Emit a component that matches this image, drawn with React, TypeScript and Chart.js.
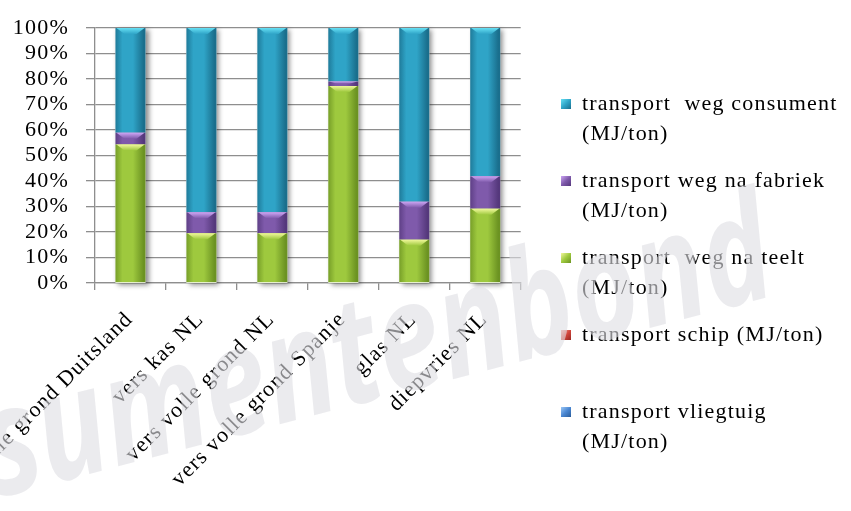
import { useEffect, useRef } from 'react';
import { Chart, registerables } from 'chart.js';

Chart.register(...registerables);

// ---- data ----
const categories = [
  'vers volle grond Duitsland',
  'vers kas NL',
  'vers volle grond NL',
  'vers volle grond Spanje',
  'glas NL',
  'diepvries NL',
];
const seriesNames = [
  'transport vliegtuig (MJ/ton)',
  'transport schip (MJ/ton)',
  'transport  weg na teelt (MJ/ton)',
  'transport weg na fabriek (MJ/ton)',
  'transport  weg consument (MJ/ton)',
];
const vliegtuig = [0, 0, 0, 0, 0, 0];
const schip = [0, 0, 0, 0, 0, 0];
const teelt = [54.3, 19.5, 19.5, 77.3, 17.0, 29.1];
const fabriek = [4.6, 8.2, 8.2, 1.7, 14.9, 12.8];
const consument = [41.1, 72.3, 72.3, 21.0, 68.1, 58.1];
const yMin = 0;
const yMax = 100;
const yStep = 10;
const watermarkText = 'consumentenbond';

// ---- styles ----
const FONT = "'Liberation Serif', 'Times New Roman', serif";
const FSIZE = 22;
const SPACING = '1.2px';
const GRID = '#8e8e8e';
const palettes = [
  { edge: '#2a5c9a', mid: '#4a87d2', hi: '#9cc8f6' },
  { edge: '#9a2822', mid: '#d2463c', hi: '#f7a199' },
  { edge: '#6c9322', mid: '#9ec93e', hi: '#f1f89c' },
  { edge: '#55387c', mid: '#7f5aab', hi: '#cda6f4' },
  { edge: '#1a6f8d', mid: '#2fa4c7', hi: '#66e0f4' },
];
const seriesData = [vliegtuig, schip, teelt, fabriek, consument];

function wrapText(ctx: CanvasRenderingContext2D, text: string, maxW: number): string[] {
  const words = text.split(' ');
  const lines: string[] = [];
  let cur = '';
  for (let i = 0; i < words.length; i++) {
    const w = words[i];
    const test = cur === '' ? w : cur + ' ' + w;
    if (cur !== '' && w !== '' && ctx.measureText(test).width > maxW) {
      lines.push(cur);
      cur = w;
    } else {
      cur = test;
    }
  }
  if (cur) lines.push(cur);
  return lines;
}

export default function App() {
  const ref = useRef<HTMLCanvasElement>(null);

  useEffect(() => {
    const canvas = ref.current;
    if (!canvas) return;

    const gradFor = (pi: number) => (c: any) => {
      const chart = c.chart;
      const p = palettes[pi];
      const xs = chart.scales && chart.scales.x;
      if (!chart.chartArea || !xs) return p.mid;
      const cx = xs.getPixelForValue(c.dataIndex) - 2;
      const half = 15;
      const g = chart.ctx.createLinearGradient(cx - half, 0, cx + half, 0);
      g.addColorStop(0, p.edge);
      g.addColorStop(0.3, p.mid);
      g.addColorStop(0.65, p.mid);
      g.addColorStop(1, p.edge);
      return g;
    };

    const decoPlugin = {
      id: 'deco',
      beforeDraw(chart: any) {
        (chart.ctx as any).letterSpacing = SPACING;
      },
      beforeDatasetsDraw(chart: any) {
        const ctx = chart.ctx as CanvasRenderingContext2D;
        const ys = chart.scales.y;
        const lastMeta = chart.getDatasetMeta(chart.data.datasets.length - 1);
        const top = ys.getPixelForValue(yMax);
        const bottom = ys.getPixelForValue(yMin);
        lastMeta.data.forEach((el: any) => {
          const { x, width } = el.getProps(['x', 'width'], true);
          ctx.save();
          ctx.shadowColor = 'rgba(0,0,0,0.45)';
          ctx.shadowBlur = 5;
          ctx.shadowOffsetX = 3;
          ctx.shadowOffsetY = 2;
          ctx.fillStyle = '#ffffff';
          ctx.fillRect(x - width / 2, top, width, bottom - top);
          ctx.restore();
        });
      },
      afterDatasetsDraw(chart: any) {
        const ctx = chart.ctx as CanvasRenderingContext2D;
        chart.data.datasets.forEach((_: any, di: number) => {
          const meta = chart.getDatasetMeta(di);
          const p = palettes[di];
          meta.data.forEach((el: any) => {
            const { x, y, base, width } = el.getProps(['x', 'y', 'base', 'width'], true);
            const h = base - y;
            if (h < 2) return;
            const hh = Math.min(6, h / 2);
            const l = x - width / 2;
            const r = x + width / 2;
            ctx.save();
            const g = ctx.createLinearGradient(0, y, 0, y + hh);
            g.addColorStop(0, p.hi);
            g.addColorStop(1, p.mid);
            ctx.fillStyle = g;
            ctx.beginPath();
            ctx.moveTo(l + 1, y);
            ctx.lineTo(r - 1, y);
            ctx.lineTo(r - 9, y + hh);
            ctx.lineTo(l + 9, y + hh);
            ctx.closePath();
            ctx.fill();
            ctx.restore();
          });
        });
      },
      afterDraw(chart: any) {
        const ctx = chart.ctx as CanvasRenderingContext2D;
        const xs = chart.scales.x;
        const axisY = chart.chartArea.bottom;
        // category labels, rotated 45°
        ctx.save();
        (ctx as any).letterSpacing = SPACING;
        ctx.font = `${FSIZE}px ${FONT}`;
        ctx.fillStyle = '#000';
        ctx.textAlign = 'right';
        ctx.textBaseline = 'middle';
        categories.forEach((lab, i) => {
          const cx = xs.getPixelForValue(i);
          ctx.save();
          ctx.translate(cx - 1, axisY + 33);
          ctx.rotate(-Math.PI / 4);
          ctx.fillText(lab, 0, 0);
          ctx.restore();
        });
        ctx.restore();

        // legend (reverse order, like the reference)
        ctx.save();
        (ctx as any).letterSpacing = SPACING;
        ctx.font = `${FSIZE}px ${FONT}`;
        ctx.textAlign = 'left';
        ctx.textBaseline = 'middle';
        const lx = 561;
        const tx = 582;
        let ly = 104;
        const pitch = 77;
        const lineH = 30;
        for (let k = seriesNames.length - 1; k >= 0; k--) {
          const p = palettes[k];
          const mg = ctx.createLinearGradient(lx, ly - 5, lx + 10, ly + 5);
          mg.addColorStop(0, p.hi);
          mg.addColorStop(0.5, p.mid);
          mg.addColorStop(1, p.edge);
          ctx.fillStyle = mg;
          ctx.fillRect(lx, ly - 5, 10, 10);
          ctx.fillStyle = '#000';
          const lines = wrapText(ctx, seriesNames[k], 278);
          lines.forEach((ln, j) => ctx.fillText(ln, tx, ly + j * lineH));
          ly += pitch;
        }
        ctx.restore();

        // watermark
        ctx.save();
        (ctx as any).letterSpacing = '0px';
        ctx.translate(780, 294);
        ctx.rotate((-14.6 * Math.PI) / 180);
        ctx.scale(0.76, 1);
        ctx.font = `italic bold 150px 'Open Sans', 'DejaVu Sans', sans-serif`;
        ctx.textAlign = 'right';
        ctx.textBaseline = 'alphabetic';
        ctx.fillStyle = 'rgba(223,223,228,0.61)';
        ctx.fillText(watermarkText, 0, 0);
        ctx.restore();
      },
    };

    const chart = new Chart(canvas, {
      type: 'bar',
      data: {
        labels: categories,
        datasets: seriesNames.map((name, i) => ({
          label: name,
          data: seriesData[i],
          backgroundColor: gradFor(i),
          borderWidth: 0,
          barPercentage: 0.424,
          categoryPercentage: 1,
        })),
      },
      options: {
        responsive: false,
        animation: false,
        devicePixelRatio: 1,
        layout: { padding: { top: 22.7, right: 851 - 520.7, left: 0, bottom: 0 } },
        plugins: {
          legend: { display: false },
          tooltip: { enabled: false },
          title: { display: false },
        },
        scales: {
          x: {
            stacked: true,
            offset: true,
            grid: {
              display: true,
              offset: true,
              drawOnChartArea: false,
              drawTicks: true,
              tickLength: 7,
              color: GRID,
              lineWidth: 1.3,
            },
            border: { display: true, color: GRID, width: 1.3 },
            ticks: { display: false },
            afterFit: (s: any) => {
              s.height = 511 - 283;
            },
          },
          y: {
            stacked: true,
            min: yMin,
            max: yMax,
            ticks: {
              stepSize: yStep,
              autoSkip: false,
              maxTicksLimit: 20,
              callback: (v: any) => v + '%',
              color: '#000',
              font: { size: FSIZE, family: FONT, lineHeight: 1 },
              padding: 17,
            },
            grid: { color: GRID, lineWidth: 1.3, tickLength: 9, drawTicks: true },
            border: { display: true, color: GRID, width: 1.3 },
            afterFit: (s: any) => {
              s.width = 95;
            },
          },
        },
      },
      plugins: [decoPlugin],
    } as any);

    return () => chart.destroy();
  }, []);

  return (
    <div style={{ position: 'fixed', left: 0, top: 0, width: 851, height: 511, background: '#fff' }}>
      <canvas ref={ref} width={851} height={511} style={{ display: 'block', width: 851, height: 511 }} />
    </div>
  );
}
